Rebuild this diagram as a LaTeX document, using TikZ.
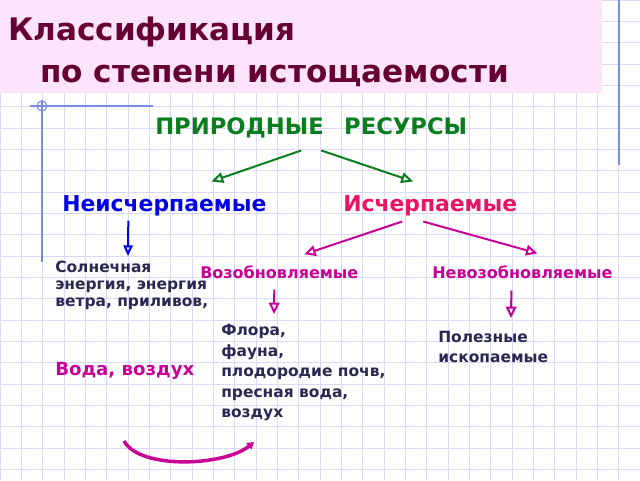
\documentclass[tikz,border=0pt]{standalone}
\usepackage{fontspec}
\setmainfont{DejaVu Sans}
\usetikzlibrary{arrows.meta}
\definecolor{titlec}{RGB}{102,0,51}
\definecolor{pinkbg}{RGB}{253,228,250}
\definecolor{greenc}{RGB}{10,125,30}
\definecolor{bluec}{RGB}{0,0,230}
\definecolor{crimc}{RGB}{235,20,100}
\definecolor{magc}{RGB}{200,0,150}
\definecolor{darkc}{RGB}{40,40,80}
\definecolor{gridc}{RGB}{218,218,246}
\definecolor{marginc}{RGB}{120,140,230}
\tikzset{
    txt/.style = {inner sep=0pt, font=\bfseries},
    ttl/.style = {txt, text=titlec, anchor=base west, font=\bfseries\fontsize{23.3}{28}\selectfont},
    lvl/.style = {txt, anchor=west, font=\bfseries\fontsize{16.4}{20}\selectfont},
    sub/.style = {txt, anchor=west, text=magc, font=\bfseries\fontsize{12}{14}\selectfont},
    blk/.style = {txt, anchor=north west, align=left, text=darkc},
    arrg/.style = {draw=greenc, line width=1.5pt, -{Triangle[open,length=9pt,width=8pt]}},
    arrb/.style = {draw=bluec, line width=1.5pt, -{Triangle[open,length=8pt,width=7pt]}},
    arrm/.style = {draw=magc, line width=1.5pt, -{Triangle[open,length=8.5pt,width=8pt]}},
    curv/.style = {draw=magc, line width=2.6pt, -{Triangle[length=5pt,width=6pt]}},
    gridline/.style = {draw=gridc, line width=0.6pt},
    margin/.style = {draw=marginc, line width=0.8pt}
}

\begin{document}
\begin{tikzpicture}[x=0.75pt,y=-0.75pt]
\useasboundingbox (0,0) rectangle (640,480);
% paper
\draw[gridline,step=16pt] (0,0) grid (640,480);
\draw[margin] (30,106) -- (153,106);
\draw[margin] (42,100) -- (42,262);
\draw[margin] (42,106) circle (5);
\draw[margin] (619,0) -- (619,165);
\fill[pinkbg] (0,0) rectangle (602,93);
% title
\node[ttl] at (8,40) (t1) {Классификация};
\node[ttl] at (40,82) (t2) {по степени истощаемости};
%
\node[txt, anchor=west, text=greenc, font=\bfseries\fontsize{17}{20}\selectfont] at (155,128) (res) {ПРИРОДНЫЕ\hspace{0.9em}РЕСУРСЫ};
\node[lvl, text=bluec] at (62,206) (nei) {Неисчерпаемые};
\node[lvl, text=crimc] at (343,206) (isch) {Исчерпаемые};
\node[sub] at (200,272) (voz) {Возобновляемые};
\node[sub] at (432,272) (nevoz) {Невозобновляемые};
\node[blk, font=\bfseries\fontsize{11.6}{12.8}\selectfont] at (55,261) (sol) {Солнечная\\энергия, энергия\\ветра, приливов,};
\node[txt, anchor=west, text=magc, font=\bfseries\fontsize{13.6}{16}\selectfont] at (55,371) (voda) {Вода, воздух};
\node[blk, font=\bfseries\fontsize{11.6}{15.4}\selectfont] at (221,324) (flora) {Флора,\\фауна,\\плодородие почв,\\пресная вода,\\воздух};
\node[blk, font=\bfseries\fontsize{11.6}{15}\selectfont] at (438,331) (polez) {Полезные\\ископаемые};
\coordinate (cl) at (124,441);
\coordinate (cr) at (254,442);
%
\draw[arrg] ([shift={(-10,12)}]res.south) -- ([shift={(47,-14)}]nei.north);
\draw[arrg] ([shift={(10,12)}]res.south) -- ([shift={(-17,-14)}]isch.north);
\draw[arrb] ([shift={(-36,4)}]nei.south) -- ([shift={(73,-5)}]sol.north west);
\draw[arrm] ([shift={(-28,5)}]isch.south) -- ([shift={(25,-11)}]voz.north);
\draw[arrm] ([shift={(-7,5)}]isch.south) -- ([shift={(15,-12)}]nevoz.north);
\draw[arrm] ([shift={(-5,11)}]voz.south) -- ([shift={(53,-10)}]flora.north west);
\draw[arrm] ([shift={(-11,12)}]nevoz.south) -- ([shift={(73,-13)}]polez.north west);
\draw[curv] (cl) .. controls (140,470) and (225,466) .. (cr);
\end{tikzpicture}
\end{document}
